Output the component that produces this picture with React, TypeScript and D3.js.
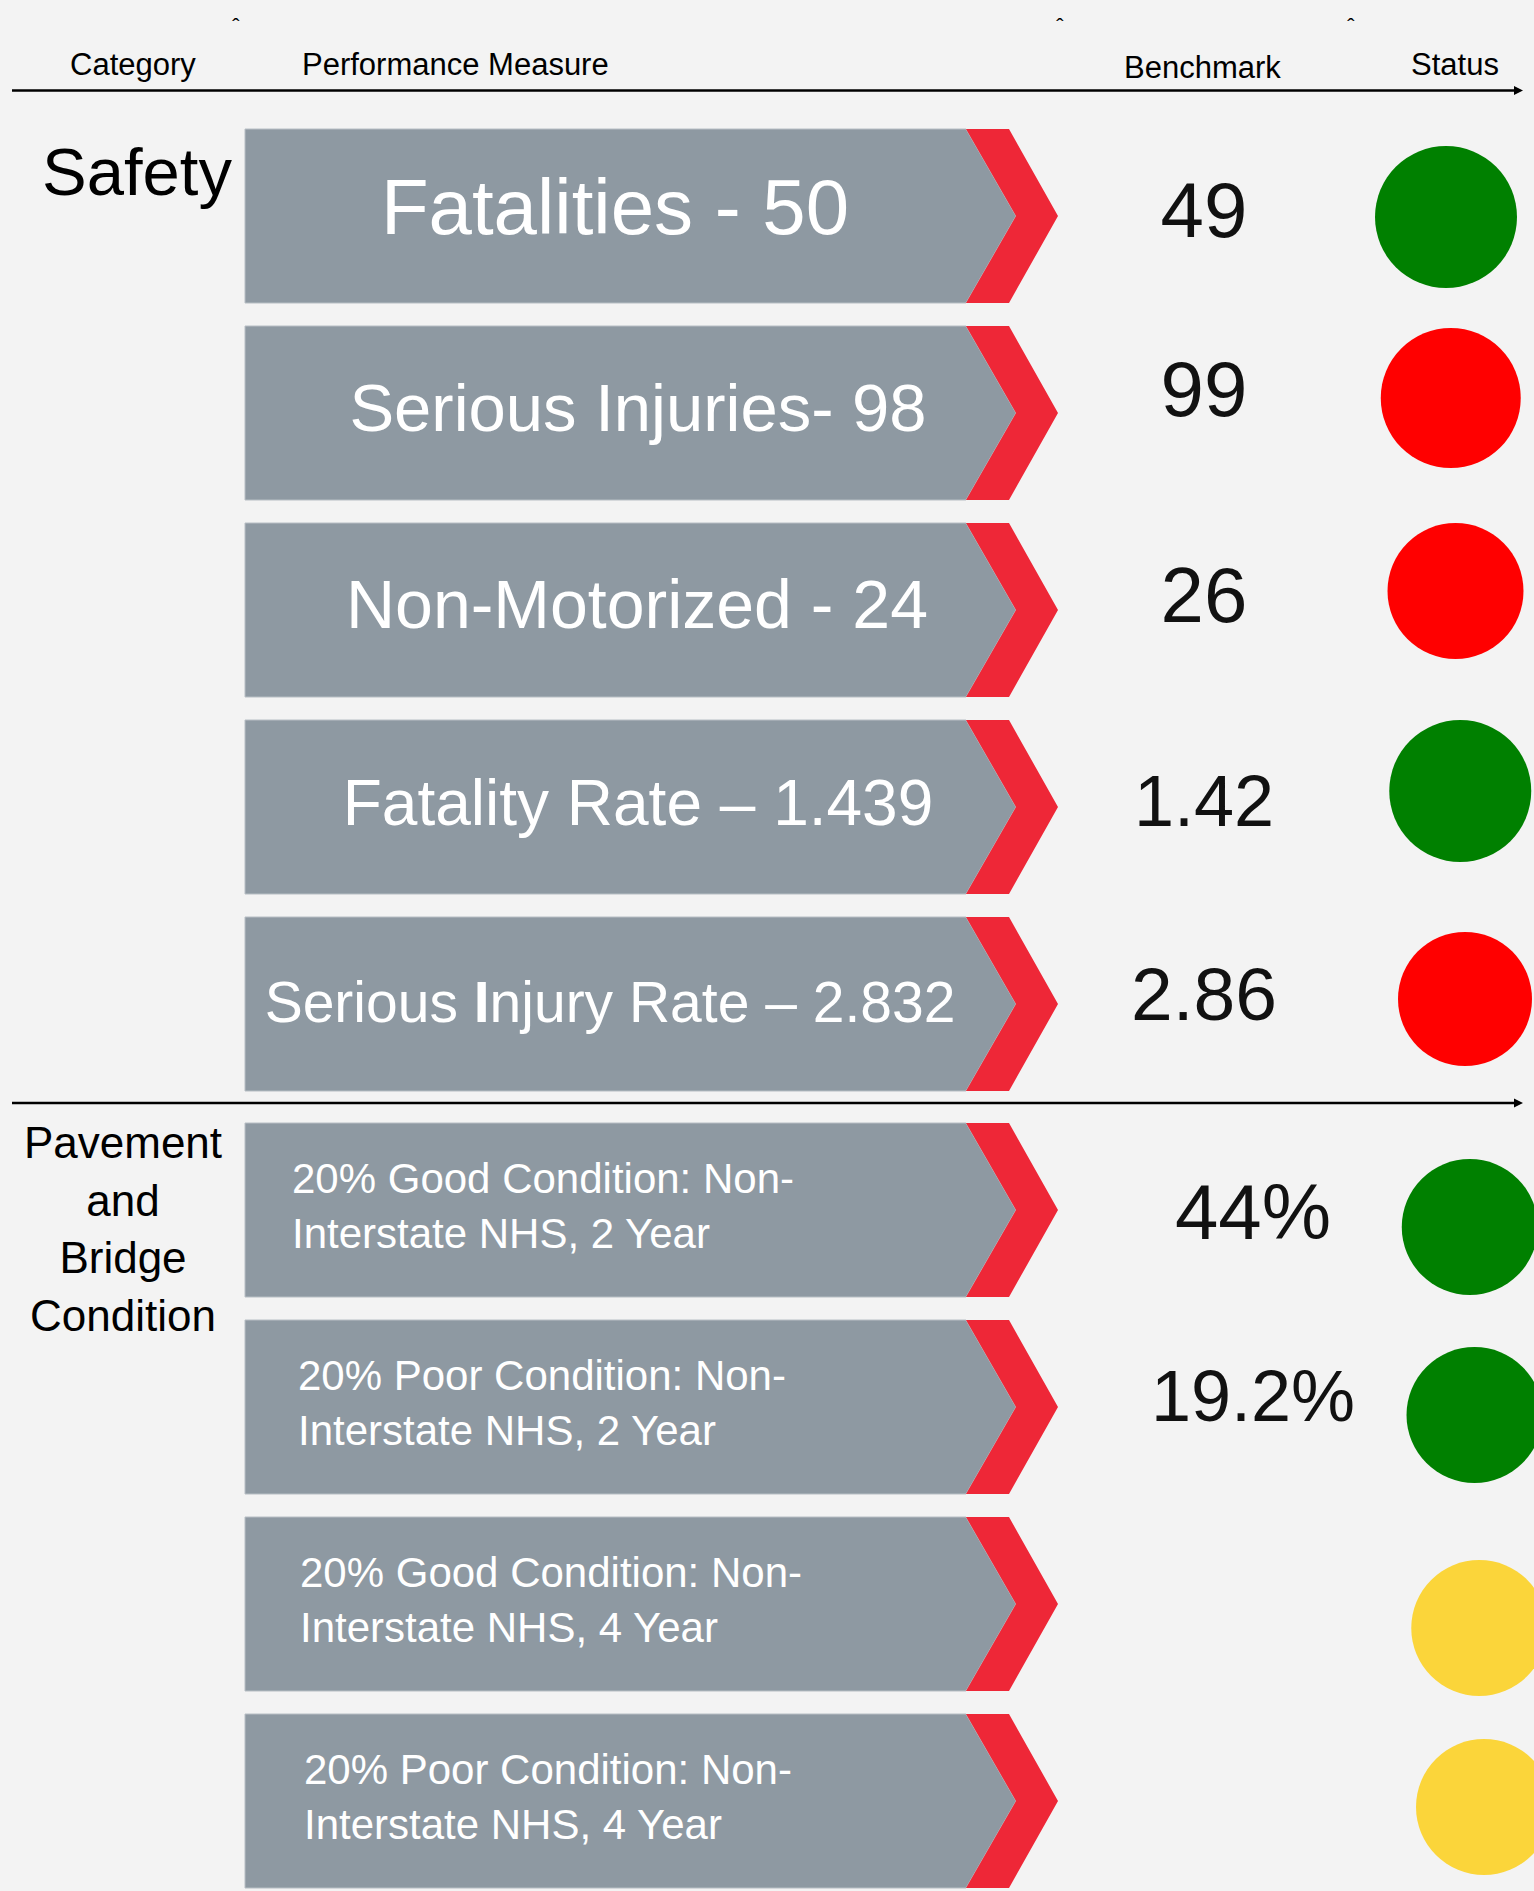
import React from "react";
import * as d3 from "d3";

// ---------- data ----------
const HEADERS = ["Category", "Performance Measure", "Benchmark", "Status"];
const CATEGORY_LINES = [["Safety"], ["Pavement", "and", "Bridge", "Condition"]];
const MEASURE_LINES = [
  ["Fatalities - 50"],
  ["Serious Injuries- 98"],
  ["Non-Motorized - 24"],
  ["Fatality Rate – 1.439"],
  ["Serious Injury Rate – 2.832"],
  ["20% Good Condition: Non-", "Interstate NHS, 2 Year"],
  ["20% Poor Condition: Non-", "Interstate NHS, 2 Year"],
  ["20% Good Condition: Non-", "Interstate NHS, 4 Year"],
  ["20% Poor Condition: Non-", "Interstate NHS, 4 Year"],
];
const MEASURE_CATEGORY = [0, 0, 0, 0, 0, 1, 1, 1, 1];
const BENCHMARKS = ["49", "99", "26", "1.42", "2.86", "44%", "19.2%", "", ""];
const STATUS = ["green", "red", "red", "green", "red", "green", "green", "yellow", "yellow"];

// ---------- style / layout nudges ----------
const LABEL_SIZE = [78, 67, 68, 64, 57, 42, 42, 42, 42];
const LABEL_DX = [-15, 8, 7, 8, -20, -4, 2, 4, 8];
const BENCH_SIZE = [78, 78, 78, 72, 75, 78, 72, 78, 78];
const BENCH_DY = [3, -15, -6, 1, -2, 11, -4, 0, 0];
const STATUS_DY = [1, -15, -19, -16, -5, 17, 8, 24, 6];
const STATUS_R = [71, 70, 68, 71, 67, 68, 68, 68, 68];
const BOLD_CHAR: Record<number, number> = { 4: 8 };

const W = 1534;
const H = 1891;
const BG = "#F3F3F3";
const GRAY = "#8E99A2";
const CHEVRON = "#EE2737";
const FONT = "'Liberation Sans', Arial, Helvetica, sans-serif";

const statusColor = d3
  .scaleOrdinal<string, string>()
  .domain(["green", "red", "yellow"])
  .range(["#008000", "#FF0000", "#FBD53A"]);

const PITCH = 197;
const SECTION_GAP = 9;
const FIRST_TOP = 129;
const BOX_H = 174;
const rowScale = d3.scaleLinear().domain([0, 1]).range([FIRST_TOP, FIRST_TOP + PITCH]);
const rowTop = (i: number) => rowScale(i) + (MEASURE_CATEGORY[i] > 0 ? SECTION_GAP : 0);

const statusX = d3.scaleLinear().domain([0, MEASURE_LINES.length - 1]).range([1446, 1484]);
const benchX = d3.scaleOrdinal<number, number>().domain([0, 1]).range([1204, 1253]);

const BOX_L = 245;
const BOX_R = 966;
const NOTCH = 50;
const CHEV_W = 43;
const LABEL_CX = 630;
const LABEL_LX = 296;

function withBold(text: string, boldIdx?: number) {
  if (boldIdx === undefined) return text;
  return [
    <tspan key="a">{text.slice(0, boldIdx)}</tspan>,
    <tspan key="b" fontWeight="bold">
      {text[boldIdx]}
    </tspan>,
    <tspan key="c">{text.slice(boldIdx + 1)}</tspan>,
  ];
}

function Arrow({ y }: { y: number }) {
  return (
    <g>
      <line x1={12} x2={1516} y1={y} y2={y} stroke="#000" strokeWidth={2.5} />
      <polygon points={`1514,${y - 4.5} 1523,${y} 1514,${y + 4.5}`} fill="#000" />
    </g>
  );
}

export default function App() {
  const headerY = FIRST_TOP - 38.5;
  const sepY = rowTop(5) - 20;
  const carets = [236, 1060, 1351];
  const headerX = [70, 302, 1124, 1411];
  const headerBase = [75, 75, 78, 75];
  const line = d3.line();

  return (
    <svg
      width={W}
      height={H}
      viewBox={`0 0 ${W} ${H}`}
      style={{ position: "absolute", left: 0, top: 0, display: "block" }}
      fontFamily={FONT}
    >
      <rect x={0} y={0} width={W} height={H} fill={BG} />

      {carets.map((x, i) => (
        <text key={"c" + i} x={x} y={34} fontSize={22} textAnchor="middle" fill="#000">
          ˆ
        </text>
      ))}

      {HEADERS.map((h, i) => (
        <text key={"h" + i} x={headerX[i]} y={headerBase[i]} fontSize={31} fill="#000">
          {h}
        </text>
      ))}

      <Arrow y={headerY} />
      <Arrow y={sepY} />

      <text x={137} y={195} fontSize={67} textAnchor="middle" fill="#000">
        {CATEGORY_LINES[0][0]}
      </text>
      {CATEGORY_LINES[1].map((t, j) => (
        <text key={"cat" + j} x={123} y={1158 + j * 57.7} fontSize={44} textAnchor="middle" fill="#000">
          {t}
        </text>
      ))}

      {MEASURE_LINES.map((lines, i) => {
        const top = rowTop(i);
        const bot = top + BOX_H;
        const mid = top + BOX_H / 2;
        const gray: [number, number][] = [
          [BOX_L, top],
          [BOX_R, top],
          [BOX_R + NOTCH, mid],
          [BOX_R, bot],
          [BOX_L, bot],
        ];
        const red: [number, number][] = [
          [BOX_R, top],
          [BOX_R + CHEV_W, top],
          [BOX_R + CHEV_W + NOTCH - 1, mid],
          [BOX_R + CHEV_W, bot],
          [BOX_R, bot],
          [BOX_R + NOTCH, mid],
        ];
        const cat = MEASURE_CATEGORY[i];
        return (
          <g key={"r" + i}>
            <path d={line(gray) + "Z"} fill={GRAY} stroke="#B7BEC4" strokeWidth={1} />
            <path d={line(red) + "Z"} fill={CHEVRON} />
            {lines.length === 1 ? (
              <text
                x={LABEL_CX + LABEL_DX[i]}
                y={top + 105}
                fontSize={LABEL_SIZE[i]}
                textAnchor="middle"
                fill="#fff"
              >
                {withBold(lines[0], BOLD_CHAR[i])}
              </text>
            ) : (
              lines.map((t, j) => (
                <text
                  key={j}
                  x={LABEL_LX + LABEL_DX[i]}
                  y={top + 70 + j * 55}
                  fontSize={LABEL_SIZE[i]}
                  fill="#fff"
                >
                  {t}
                </text>
              ))
            )}
            {BENCHMARKS[i] && (
              <text
                x={benchX(cat)}
                y={top + 105 + BENCH_DY[i]}
                fontSize={BENCH_SIZE[i]}
                textAnchor="middle"
                fill="#111"
              >
                {BENCHMARKS[i]}
              </text>
            )}
            <circle
              cx={statusX(i)}
              cy={mid + STATUS_DY[i]}
              r={STATUS_R[i]}
              fill={statusColor(STATUS[i])}
            />
          </g>
        );
      })}
    </svg>
  );
}
